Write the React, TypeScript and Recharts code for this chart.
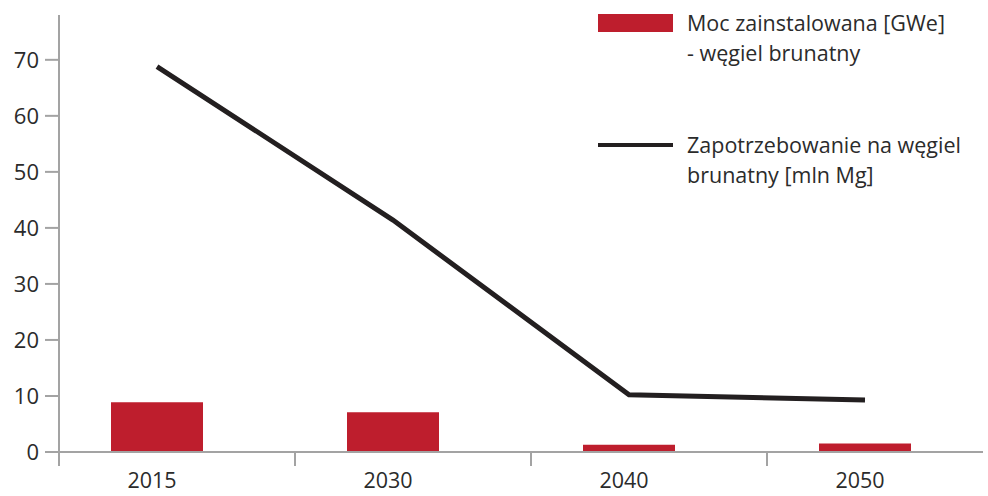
import { ComposedChart, Bar, Line, XAxis, YAxis } from "recharts";

const years = ["2015", "2030", "2040", "2050"];
const capacity = [8.9, 7.1, 1.3, 1.5];
const demand = [68.8, 41.4, 10.2, 9.3];
const yTicks = [0, 10, 20, 30, 40, 50, 60, 70];

const data = years.map((year, i) => ({
  year,
  capacity: capacity[i],
  demand: demand[i],
}));

const RED = "#be1e2d";
const DARK = "#231f20";
const AXIS = "#a3a3a3";
const FONT = "'Open Sans', sans-serif";

function XTick(props: any) {
  const { x, y, payload } = props;
  const sep = x - 98;
  return (
    <g>
      <line x1={sep} x2={sep} y1={y - 8} y2={y + 6} stroke={AXIS} strokeWidth={2} />
      <text
        x={x - 5}
        y={y + 28}
        textAnchor="middle"
        fontSize={21.5}
        fontFamily={FONT}
        fill="#2b2b2b"
      >
        {payload.value}
      </text>
    </g>
  );
}

function LegendBox() {
  const text = {
    fontFamily: FONT,
    fontSize: 21.5,
    lineHeight: "30px",
    color: "#2b2b2b",
    marginLeft: 14,
  } as const;
  return (
    <div style={{ position: "absolute", left: 598, top: 8, width: 390 }}>
      <div style={{ display: "flex", alignItems: "flex-start", marginBottom: 62 }}>
        <div style={{ width: 75, height: 18, background: RED, marginTop: 6 }} />
        <div style={text}>
          Moc zainstalowana [GWe]
          <br />- węgiel brunatny
        </div>
      </div>
      <div style={{ display: "flex", alignItems: "flex-start" }}>
        <div style={{ width: 75, height: 4, background: DARK, marginTop: 13 }} />
        <div style={text}>
          Zapotrzebowanie na węgiel
          <br />
          brunatny [mln Mg]
        </div>
      </div>
    </div>
  );
}

export default function App() {
  return (
    <div style={{ position: "absolute", left: 0, top: 0, width: 988, height: 496, overflow: "hidden", background: "#fff" }}>
      <ComposedChart
        width={988}
        height={496}
        data={data}
        margin={{ top: 15, right: 5, left: 0, bottom: 0 }}
      >
        <XAxis
          dataKey="year"
          height={44}
          padding={{ left: -20, right: 0 }}
          axisLine={{ stroke: AXIS, strokeWidth: 2 }}
          tickLine={false}
          tick={<XTick />}
          interval={0}
        />
        <YAxis
          width={59}
          domain={[0, 78]}
          ticks={yTicks}
          axisLine={{ stroke: AXIS, strokeWidth: 2 }}
          tickLine={{ stroke: AXIS, strokeWidth: 2 }}
          tickSize={14}
          tickMargin={6}
          tick={{ fontSize: 22, fontFamily: FONT, fill: "#2b2b2b" }}
        />
        <Bar dataKey="capacity" fill={RED} barSize={92} isAnimationActive={false} />
        <Line
          dataKey="demand"
          type="linear"
          stroke={DARK}
          strokeWidth={5}
          dot={false}
          activeDot={false}
          isAnimationActive={false}
        />
      </ComposedChart>
      <LegendBox />
    </div>
  );
}
